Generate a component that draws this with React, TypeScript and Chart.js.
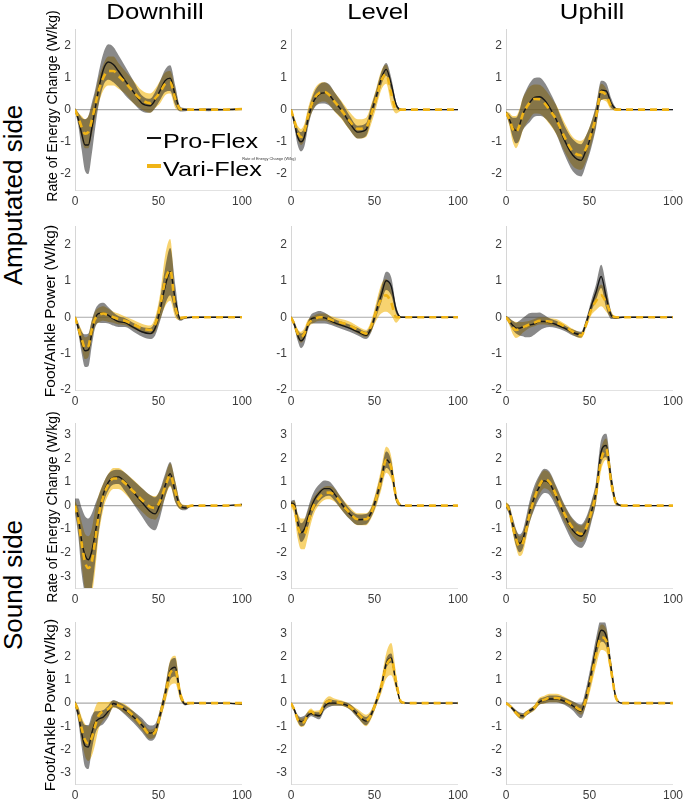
import React, { useEffect, useRef } from "react";
import { Chart, registerables } from "chart.js";

Chart.register(...registerables);

// ---------------- data ----------------
const gaitCycle = [0, 2, 4, 6, 8, 10, 12, 14, 17, 20, 23, 26, 30, 35, 40, 45, 48, 51, 54, 57, 60, 63, 66, 70, 80, 90, 100];
const xTickValues = [0, 50, 100];
const yTicksAmputated = [-2, -1, 0, 1, 2];
const yTicksSound = [-3, -2, -1, 0, 1, 2, 3];
const columnTitles = ["Downhill", "Level", "Uphill"];
const rowGroupTitles = ["Amputated side", "Sound side"];
const energyAxisTitle = "Rate of Energy Change (W/kg)";
const powerAxisTitle = "Foot/Ankle Power (W/kg)";
const seriesNames = ["Pro-Flex", "Vari-Flex"];

// Amputated side – rate of energy change
const ampEnergyDownhillPro = [0, -0.3, -0.75, -1.1, -1.1, -0.6, 0.0, 0.6, 1.25, 1.48, 1.4, 1.2, 0.9, 0.55, 0.2, 0.12, 0.3, 0.6, 0.9, 0.98, 0.45, 0.02, 0, 0, 0, 0, 0.02];
const ampEnergyDownhillProSd = [0.05, 0.2, 0.5, 0.8, 0.9, 0.8, 0.6, 0.5, 0.5, 0.55, 0.55, 0.5, 0.45, 0.35, 0.25, 0.22, 0.25, 0.3, 0.35, 0.4, 0.3, 0.08, 0.05, 0.02, 0.05, 0.02, 0.03];
const ampEnergyDownhillVari = [0, -0.25, -0.55, -0.75, -0.7, -0.35, 0.1, 0.55, 1.0, 1.2, 1.2, 1.05, 0.85, 0.55, 0.3, 0.2, 0.35, 0.55, 0.8, 0.85, 0.35, 0.02, 0, 0, 0, 0, 0.02];
const ampEnergyDownhillVariSd = [0.05, 0.15, 0.35, 0.45, 0.5, 0.45, 0.4, 0.4, 0.4, 0.45, 0.45, 0.4, 0.35, 0.35, 0.3, 0.3, 0.3, 0.35, 0.35, 0.35, 0.3, 0.05, 0.03, 0.02, 0.02, 0.02, 0.03];

const ampEnergyLevelPro = [0, -0.4, -0.85, -1.0, -0.85, -0.35, 0.05, 0.3, 0.48, 0.52, 0.45, 0.25, 0.0, -0.4, -0.7, -0.62, -0.1, 0.4, 0.95, 1.25, 0.8, 0.15, 0, 0, 0, 0, 0];
const ampEnergyLevelProSd = [0.03, 0.15, 0.25, 0.3, 0.3, 0.25, 0.22, 0.25, 0.3, 0.33, 0.33, 0.3, 0.25, 0.22, 0.2, 0.2, 0.2, 0.2, 0.2, 0.2, 0.2, 0.08, 0.03, 0.01, 0.01, 0.01, 0.01];
const ampEnergyLevelVari = [0, -0.35, -0.7, -0.85, -0.7, -0.25, 0.1, 0.35, 0.52, 0.55, 0.45, 0.25, 0.0, -0.35, -0.6, -0.55, -0.15, 0.35, 0.9, 1.1, 0.5, 0.0, 0, 0, 0, 0, 0];
const ampEnergyLevelVariSd = [0.03, 0.12, 0.2, 0.25, 0.25, 0.25, 0.25, 0.28, 0.3, 0.3, 0.3, 0.3, 0.28, 0.28, 0.3, 0.3, 0.3, 0.3, 0.3, 0.3, 0.35, 0.12, 0.03, 0.01, 0.01, 0.01, 0.01];

const ampEnergyUphillPro = [-0.1, -0.3, -0.55, -0.65, -0.5, -0.15, 0.05, 0.2, 0.38, 0.4, 0.3, 0.08, -0.3, -0.95, -1.42, -1.58, -1.25, -0.8, -0.2, 0.6, 0.58, 0.2, 0.02, 0, 0, 0, 0];
const ampEnergyUphillProSd = [0.05, 0.15, 0.3, 0.4, 0.45, 0.5, 0.55, 0.6, 0.6, 0.6, 0.55, 0.5, 0.45, 0.45, 0.5, 0.5, 0.45, 0.4, 0.35, 0.3, 0.25, 0.15, 0.03, 0.01, 0.01, 0.01, 0.01];
const ampEnergyUphillVari = [-0.1, -0.3, -0.6, -0.7, -0.5, -0.15, 0.05, 0.2, 0.33, 0.32, 0.2, 0.0, -0.3, -0.85, -1.3, -1.42, -1.2, -0.75, -0.2, 0.55, 0.45, 0.1, 0, 0, 0, 0, 0];
const ampEnergyUphillVariSd = [0.05, 0.2, 0.4, 0.5, 0.5, 0.5, 0.5, 0.5, 0.45, 0.45, 0.45, 0.45, 0.45, 0.45, 0.45, 0.45, 0.4, 0.35, 0.3, 0.25, 0.2, 0.1, 0.02, 0.01, 0.01, 0.01, 0.01];

// Amputated side – foot/ankle power
const ampPowerDownhillPro = [0, -0.3, -0.7, -0.92, -0.9, -0.45, -0.05, 0.1, 0.12, 0.05, -0.05, -0.12, -0.15, -0.28, -0.4, -0.45, -0.3, 0.2, 0.85, 1.25, 0.5, -0.05, -0.02, 0, 0, 0, 0];
const ampPowerDownhillProSd = [0.03, 0.15, 0.3, 0.45, 0.45, 0.35, 0.25, 0.25, 0.28, 0.22, 0.18, 0.15, 0.12, 0.12, 0.13, 0.15, 0.2, 0.3, 0.5, 0.65, 0.4, 0.05, 0.02, 0.01, 0.01, 0.01, 0.01];
const ampPowerDownhillVari = [0, -0.3, -0.6, -0.85, -0.8, -0.35, -0.05, 0.05, 0.1, 0.05, 0.0, -0.05, -0.1, -0.2, -0.3, -0.35, -0.2, 0.3, 1.0, 1.3, 0.3, -0.03, 0, 0, 0, 0, 0];
const ampPowerDownhillVariSd = [0.03, 0.12, 0.25, 0.3, 0.3, 0.25, 0.2, 0.2, 0.2, 0.18, 0.15, 0.15, 0.12, 0.12, 0.12, 0.12, 0.2, 0.35, 0.7, 0.85, 0.3, 0.05, 0.02, 0.01, 0.01, 0.01, 0.01];

const ampPowerLevelPro = [0, -0.2, -0.5, -0.65, -0.55, -0.25, -0.05, -0.02, 0.0, -0.02, -0.08, -0.15, -0.22, -0.3, -0.4, -0.5, -0.3, 0.15, 0.6, 1.0, 0.85, 0.2, 0.0, 0, 0, 0, 0];
const ampPowerLevelProSd = [0.03, 0.08, 0.15, 0.2, 0.18, 0.12, 0.12, 0.15, 0.17, 0.15, 0.12, 0.1, 0.1, 0.1, 0.1, 0.1, 0.12, 0.15, 0.2, 0.25, 0.25, 0.1, 0.02, 0.01, 0.01, 0.01, 0.01];
const ampPowerLevelVari = [0, -0.2, -0.45, -0.55, -0.45, -0.2, -0.1, -0.05, 0.0, 0.0, -0.05, -0.1, -0.15, -0.22, -0.35, -0.45, -0.25, 0.15, 0.5, 0.6, 0.4, 0.0, 0.0, 0, 0, 0, 0];
const ampPowerLevelVariSd = [0.03, 0.08, 0.12, 0.15, 0.15, 0.12, 0.1, 0.1, 0.1, 0.1, 0.1, 0.1, 0.1, 0.1, 0.1, 0.1, 0.15, 0.25, 0.4, 0.45, 0.35, 0.15, 0.02, 0.01, 0.01, 0.01, 0.01];

const ampPowerUphillPro = [0, -0.1, -0.22, -0.3, -0.3, -0.27, -0.25, -0.22, -0.18, -0.12, -0.12, -0.15, -0.2, -0.3, -0.42, -0.48, -0.15, 0.3, 0.7, 1.12, 0.55, 0.05, -0.02, 0, 0, 0, 0];
const ampPowerUphillProSd = [0.03, 0.08, 0.12, 0.15, 0.2, 0.25, 0.3, 0.33, 0.3, 0.25, 0.18, 0.12, 0.1, 0.08, 0.08, 0.08, 0.1, 0.15, 0.22, 0.32, 0.3, 0.1, 0.03, 0.01, 0.01, 0.01, 0.01];
const ampPowerUphillVari = [0, -0.12, -0.28, -0.35, -0.33, -0.28, -0.24, -0.2, -0.15, -0.1, -0.1, -0.12, -0.15, -0.25, -0.4, -0.5, -0.2, 0.2, 0.45, 0.6, 0.4, 0.08, 0.0, 0, 0, 0, 0];
const ampPowerUphillVariSd = [0.03, 0.1, 0.18, 0.22, 0.2, 0.15, 0.12, 0.1, 0.1, 0.1, 0.1, 0.1, 0.1, 0.08, 0.08, 0.08, 0.1, 0.15, 0.25, 0.3, 0.25, 0.08, 0.02, 0.01, 0.01, 0.01, 0.01];

// Sound side – rate of energy change
const soundEnergyDownhillPro = [0, -0.5, -1.5, -2.1, -2.3, -1.95, -1.2, -0.4, 0.5, 1.0, 1.2, 1.22, 1.0, 0.57, 0.15, -0.25, -0.35, 0.1, 0.85, 1.35, 0.6, 0.0, -0.1, 0, 0, 0, 0.05];
const soundEnergyDownhillProSd = [0.3, 0.8, 1.4, 1.65, 1.75, 1.6, 1.25, 0.8, 0.45, 0.35, 0.3, 0.3, 0.4, 0.5, 0.6, 0.7, 0.7, 0.6, 0.5, 0.5, 0.45, 0.15, 0.1, 0.02, 0.02, 0.02, 0.03];
const soundEnergyDownhillVari = [0, -0.6, -1.6, -2.4, -2.65, -2.4, -1.5, -0.5, 0.4, 0.9, 1.15, 1.15, 0.95, 0.6, 0.25, -0.05, -0.1, 0.2, 0.8, 1.3, 0.6, 0.0, -0.05, 0, 0, 0, 0.02];
const soundEnergyDownhillVariSd = [0.2, 0.5, 0.9, 1.2, 1.35, 1.4, 1.3, 0.9, 0.55, 0.45, 0.45, 0.45, 0.45, 0.5, 0.5, 0.5, 0.5, 0.45, 0.45, 0.5, 0.45, 0.15, 0.08, 0.02, 0.02, 0.02, 0.02];

const soundEnergyLevelPro = [0.1, 0.05, -0.7, -1.15, -1.0, -0.55, -0.1, 0.25, 0.55, 0.72, 0.72, 0.5, 0.1, -0.35, -0.6, -0.58, -0.3, 0.3, 1.1, 1.95, 1.6, 0.3, 0.0, 0, 0, 0, 0];
const soundEnergyLevelProSd = [0.1, 0.2, 0.35, 0.4, 0.4, 0.4, 0.4, 0.38, 0.36, 0.35, 0.3, 0.28, 0.25, 0.22, 0.22, 0.22, 0.2, 0.25, 0.3, 0.35, 0.3, 0.15, 0.03, 0.01, 0.01, 0.01, 0.01];
const soundEnergyLevelVari = [0.05, -0.1, -0.85, -1.2, -1.2, -0.8, -0.3, 0.05, 0.35, 0.52, 0.55, 0.45, 0.1, -0.3, -0.58, -0.58, -0.3, 0.3, 1.1, 1.95, 1.6, 0.35, 0.02, 0, 0, 0, 0];
const soundEnergyLevelVariSd = [0.1, 0.3, 0.55, 0.65, 0.65, 0.55, 0.45, 0.35, 0.3, 0.28, 0.28, 0.28, 0.25, 0.25, 0.25, 0.25, 0.25, 0.35, 0.45, 0.55, 0.5, 0.2, 0.03, 0.01, 0.01, 0.01, 0.01];

const soundEnergyUphillPro = [0, -0.2, -0.8, -1.35, -1.6, -1.45, -0.9, -0.3, 0.35, 0.8, 1.05, 0.95, 0.4, -0.4, -1.05, -1.3, -1.0, -0.3, 0.6, 2.3, 2.55, 1.1, 0.12, 0, 0, 0, 0];
const soundEnergyUphillProSd = [0.1, 0.2, 0.3, 0.35, 0.38, 0.38, 0.4, 0.45, 0.5, 0.5, 0.52, 0.5, 0.45, 0.45, 0.5, 0.5, 0.5, 0.45, 0.45, 0.5, 0.5, 0.35, 0.1, 0.02, 0.01, 0.01, 0.01];
const soundEnergyUphillVari = [0.05, -0.2, -0.85, -1.4, -1.72, -1.6, -1.05, -0.4, 0.3, 0.85, 1.12, 1.0, 0.45, -0.35, -0.95, -1.2, -0.95, -0.3, 0.55, 1.95, 2.4, 1.0, 0.1, 0, 0, 0, 0];
const soundEnergyUphillVariSd = [0.1, 0.2, 0.3, 0.38, 0.42, 0.42, 0.4, 0.38, 0.38, 0.38, 0.38, 0.38, 0.35, 0.35, 0.35, 0.35, 0.35, 0.35, 0.4, 0.45, 0.45, 0.3, 0.08, 0.02, 0.01, 0.01, 0.01];

// Sound side – foot/ankle power
const soundPowerDownhillPro = [0, -0.5, -1.3, -1.85, -1.9, -1.3, -0.85, -0.7, -0.6, -0.35, -0.02, -0.1, -0.3, -0.6, -0.95, -1.3, -1.2, -0.5, 0.4, 1.4, 1.55, 0.4, -0.05, 0, 0, 0, -0.05];
const soundPowerDownhillProSd = [0.1, 0.3, 0.6, 0.9, 0.95, 0.75, 0.5, 0.35, 0.3, 0.25, 0.15, 0.15, 0.2, 0.25, 0.3, 0.33, 0.3, 0.25, 0.3, 0.4, 0.4, 0.2, 0.05, 0.01, 0.01, 0.01, 0.02];
const soundPowerDownhillVari = [0, -0.4, -1.1, -1.6, -1.75, -1.5, -1.0, -0.55, -0.35, -0.25, -0.05, -0.1, -0.25, -0.55, -0.95, -1.35, -1.25, -0.5, 0.35, 1.3, 1.45, 0.4, 0.0, 0, 0, 0, 0];
const soundPowerDownhillVariSd = [0.1, 0.25, 0.5, 0.7, 0.75, 0.8, 0.8, 0.6, 0.4, 0.3, 0.15, 0.15, 0.2, 0.2, 0.2, 0.2, 0.2, 0.25, 0.35, 0.55, 0.6, 0.25, 0.05, 0.01, 0.01, 0.01, 0.01];

const soundPowerLevelPro = [0, -0.3, -0.65, -0.8, -0.75, -0.55, -0.45, -0.5, -0.55, -0.15, 0.0, 0.0, -0.02, -0.15, -0.5, -0.78, -0.5, 0.05, 0.7, 1.7, 1.95, 0.8, 0.02, 0, 0, 0, 0];
const soundPowerLevelProSd = [0.03, 0.1, 0.15, 0.2, 0.2, 0.15, 0.12, 0.12, 0.15, 0.17, 0.17, 0.12, 0.1, 0.12, 0.15, 0.18, 0.15, 0.15, 0.15, 0.2, 0.2, 0.15, 0.03, 0.01, 0.01, 0.01, 0.01];
const soundPowerLevelVari = [0, -0.3, -0.7, -0.85, -0.8, -0.5, -0.35, -0.45, -0.45, -0.05, 0.1, 0.05, 0.0, -0.15, -0.45, -0.75, -0.5, 0.05, 0.7, 1.6, 1.9, 0.9, 0.05, 0, 0, 0, 0];
const soundPowerLevelVariSd = [0.03, 0.1, 0.15, 0.18, 0.18, 0.15, 0.12, 0.12, 0.15, 0.17, 0.2, 0.15, 0.12, 0.12, 0.18, 0.25, 0.2, 0.2, 0.3, 0.55, 0.7, 0.35, 0.05, 0.01, 0.01, 0.01, 0.01];

const soundPowerUphillPro = [0, -0.1, -0.25, -0.4, -0.52, -0.55, -0.45, -0.35, -0.2, 0.05, 0.12, 0.18, 0.18, 0.08, -0.12, -0.35, 0.3, 1.3, 2.4, 3.15, 2.9, 1.5, 0.2, 0, 0, 0, 0];
const soundPowerUphillProSd = [0.03, 0.05, 0.08, 0.1, 0.12, 0.12, 0.1, 0.1, 0.1, 0.12, 0.13, 0.15, 0.15, 0.15, 0.2, 0.3, 0.35, 0.4, 0.45, 0.5, 0.45, 0.3, 0.08, 0.01, 0.01, 0.01, 0.01];
const soundPowerUphillVari = [0, -0.1, -0.25, -0.42, -0.55, -0.6, -0.45, -0.35, -0.2, 0.08, 0.15, 0.22, 0.22, 0.12, -0.08, -0.3, 0.2, 1.1, 2.1, 2.85, 2.7, 1.4, 0.2, 0, 0, 0, 0];
const soundPowerUphillVariSd = [0.03, 0.05, 0.08, 0.1, 0.12, 0.12, 0.1, 0.1, 0.12, 0.15, 0.17, 0.18, 0.18, 0.15, 0.15, 0.2, 0.3, 0.4, 0.5, 0.55, 0.5, 0.3, 0.08, 0.01, 0.01, 0.01, 0.01];

// ---------------- layout / style ----------------
const FONT = "'Liberation Sans', Arial, Helvetica, sans-serif";
const PRO_LINE = "#161616";
const VARI_LINE = "#f0b416";
const PRO_BAND = "rgba(40,40,40,0.55)";
const VARI_BAND = "rgba(242,182,16,0.6)";
const COL_LEFT = [75, 291, 506];
const PLOT_W = 167;

const rows = [
  { yMin: -2.5, yMax: 2.5, ticks: yTicksAmputated, top: 28, h: 162,
    panels: [
      [ampEnergyDownhillPro, ampEnergyDownhillProSd, ampEnergyDownhillVari, ampEnergyDownhillVariSd],
      [ampEnergyLevelPro, ampEnergyLevelProSd, ampEnergyLevelVari, ampEnergyLevelVariSd],
      [ampEnergyUphillPro, ampEnergyUphillProSd, ampEnergyUphillVari, ampEnergyUphillVariSd],
    ] },
  { yMin: -2, yMax: 2.5, ticks: yTicksAmputated, top: 225, h: 165,
    panels: [
      [ampPowerDownhillPro, ampPowerDownhillProSd, ampPowerDownhillVari, ampPowerDownhillVariSd],
      [ampPowerLevelPro, ampPowerLevelProSd, ampPowerLevelVari, ampPowerLevelVariSd],
      [ampPowerUphillPro, ampPowerUphillProSd, ampPowerUphillVari, ampPowerUphillVariSd],
    ] },
  { yMin: -3.5, yMax: 3.5, ticks: yTicksSound, top: 422, h: 166,
    panels: [
      [soundEnergyDownhillPro, soundEnergyDownhillProSd, soundEnergyDownhillVari, soundEnergyDownhillVariSd],
      [soundEnergyLevelPro, soundEnergyLevelProSd, soundEnergyLevelVari, soundEnergyLevelVariSd],
      [soundEnergyUphillPro, soundEnergyUphillProSd, soundEnergyUphillVari, soundEnergyUphillVariSd],
    ] },
  { yMin: -3.5, yMax: 3.5, ticks: yTicksSound, top: 621, h: 163,
    panels: [
      [soundPowerDownhillPro, soundPowerDownhillProSd, soundPowerDownhillVari, soundPowerDownhillVariSd],
      [soundPowerLevelPro, soundPowerLevelProSd, soundPowerLevelVari, soundPowerLevelVariSd],
      [soundPowerUphillPro, soundPowerUphillProSd, soundPowerUphillVari, soundPowerUphillVariSd],
    ] },
];

const PAD_L = 30, PAD_T = 10, PAD_R = 14, PAD_B = 20;

function Panel(props: any) {
  const { left, top, plotH, yMin, yMax, yTicks, pro, proSd, vari, variSd } = props;
  const ref = useRef<HTMLCanvasElement>(null);
  const W = PAD_L + PLOT_W + PAD_R;
  const H = PAD_T + plotH + PAD_B;
  useEffect(() => {
    const pts = (m: number[], s?: number[], k = 0) =>
      gaitCycle.map((x, i) => ({ x, y: m[i] + (s ? k * s[i] : 0) }));
    const common = { pointRadius: 0, pointHoverRadius: 0, cubicInterpolationMode: "monotone" as const };
    const none = "rgba(0,0,0,0)";
    const chart = new Chart(ref.current as HTMLCanvasElement, {
      type: "line",
      data: {
        datasets: [
          { ...common, label: "zero", data: [{ x: 0, y: 0 }, { x: 100, y: 0 }], borderColor: "#aaaaaa", borderWidth: 1.1, fill: false, order: 7 },
          { ...common, label: seriesNames[1] + " low", data: pts(vari, variSd, -1), borderColor: none, borderWidth: 0, fill: false, order: 6 },
          { ...common, label: seriesNames[1] + " high", data: pts(vari, variSd, 1), borderColor: none, borderWidth: 0, backgroundColor: VARI_BAND, fill: "-1", order: 5 },
          { ...common, label: seriesNames[0] + " low", data: pts(pro, proSd, -1), borderColor: none, borderWidth: 0, fill: false, order: 4 },
          { ...common, label: seriesNames[0] + " high", data: pts(pro, proSd, 1), borderColor: none, borderWidth: 0, backgroundColor: PRO_BAND, fill: "-1", order: 3 },
          { ...common, label: seriesNames[0], data: pts(pro), borderColor: PRO_LINE, borderWidth: 1.4, fill: false, order: 2 },
          { ...common, label: seriesNames[1], data: pts(vari), borderColor: VARI_LINE, borderWidth: 2.6, borderDash: [7, 5], fill: false, order: 1 },
        ],
      } as any,
      options: {
        animation: false,
        responsive: false,
        maintainAspectRatio: false,
        devicePixelRatio: 1,
        events: [],
        layout: { padding: { left: 0, top: PAD_T, right: PAD_R, bottom: 0 } },
        plugins: { legend: { display: false }, tooltip: { enabled: false }, title: { display: false } },
        scales: {
          x: {
            type: "linear", min: 0, max: 100,
            grid: { display: false, drawTicks: false },
            border: { display: true, color: "#e2e2e2", width: 1 },
            ticks: { color: "#3c3c3c", font: { family: FONT, size: 12 }, padding: 4, maxRotation: 0, autoSkip: false, callback: (v: any) => String(v) },
            afterBuildTicks: (s: any) => { s.ticks = xTickValues.map((v) => ({ value: v })); },
            afterFit: (s: any) => { s.height = PAD_B; },
          },
          y: {
            type: "linear", min: yMin, max: yMax,
            grid: { display: false, drawTicks: false },
            border: { display: true, color: "#d6d6d6", width: 1 },
            ticks: { color: "#3c3c3c", font: { family: FONT, size: 12 }, padding: 4, autoSkip: false, callback: (v: any) => String(v) },
            afterBuildTicks: (s: any) => { s.ticks = yTicks.map((v: number) => ({ value: v })); },
            afterFit: (s: any) => { s.width = PAD_L; },
          },
        },
      } as any,
    });
    return () => chart.destroy();
  }, []);
  return (
    <canvas
      ref={ref}
      width={W}
      height={H}
      style={{ position: "absolute", left: left - PAD_L, top: top - PAD_T, width: W, height: H }}
    />
  );
}

function Txt(props: any) {
  const { x, y, size, rot = 0, sx = 1, anchor = "center", children } = props;
  const tf =
    anchor === "left"
      ? `translate(0,-50%) scaleX(${sx})`
      : `translate(-50%,-50%) rotate(${rot}deg) scaleX(${sx})`;
  return (
    <div style={{ position: "absolute", left: x, top: y, width: 0, height: 0 }}>
      <div
        style={{
          position: "absolute", left: 0, top: 0, whiteSpace: "nowrap",
          fontFamily: FONT, fontSize: size, lineHeight: 1, color: "#000",
          transform: tf, transformOrigin: anchor === "left" ? "0 50%" : "50% 50%",
        }}
      >
        {children}
      </div>
    </div>
  );
}

export default function App() {
  const titleX = [155, 378, 592];
  const axisTitleY = [106, 311, 507, 705];
  const axisTitleX = [52.4, 50, 52.4, 50];
  const axisTitleSize = [14, 15.5, 14, 15.5];
  const axisTitles = [energyAxisTitle, powerAxisTitle, energyAxisTitle, powerAxisTitle];
  return (
    <div style={{ position: "absolute", left: 0, top: 0, width: 685, height: 801, overflow: "hidden", background: "#fff" }}>
      {rows.map((r, ri) =>
        r.panels.map((p, ci) => (
          <Panel
            key={ri + "-" + ci}
            left={COL_LEFT[ci]}
            top={r.top}
            plotH={r.h}
            yMin={r.yMin}
            yMax={r.yMax}
            yTicks={r.ticks}
            pro={p[0]}
            proSd={p[1]}
            vari={p[2]}
            variSd={p[3]}
          />
        ))
      )}
      {columnTitles.map((t, i) => (
        <Txt key={t} x={titleX[i]} y={12} size={22} sx={1.17}>{t}</Txt>
      ))}
      <Txt x={13} y={195} size={26} rot={-90}>{rowGroupTitles[0]}</Txt>
      <Txt x={13} y={585} size={26} rot={-90}>{rowGroupTitles[1]}</Txt>
      {axisTitles.map((t, i) => (
        <Txt key={i} x={axisTitleX[i]} y={axisTitleY[i]} size={axisTitleSize[i]} rot={-90}>{t}</Txt>
      ))}
      {/* legend */}
      <div style={{ position: "absolute", left: 147, top: 137, width: 14, height: 2, background: PRO_LINE }} />
      <Txt x={163} y={139.7} size={21} sx={1.2} anchor="left">{seriesNames[0]}</Txt>
      <div style={{ position: "absolute", left: 147, top: 164, width: 14, height: 4, background: VARI_LINE }} />
      <Txt x={163} y={168.2} size={21} sx={1.2} anchor="left">{seriesNames[1]}</Txt>
      {/* tiny stray label */}
      <div style={{ position: "absolute", left: 269, top: 159, width: 0, height: 0 }}>
        <div style={{ position: "absolute", left: 0, top: 0, whiteSpace: "nowrap", fontFamily: FONT, fontSize: 8, lineHeight: 1, color: "#333", transform: "translate(-50%,-50%) scale(0.49)" }}>
          {energyAxisTitle}
        </div>
      </div>
    </div>
  );
}
